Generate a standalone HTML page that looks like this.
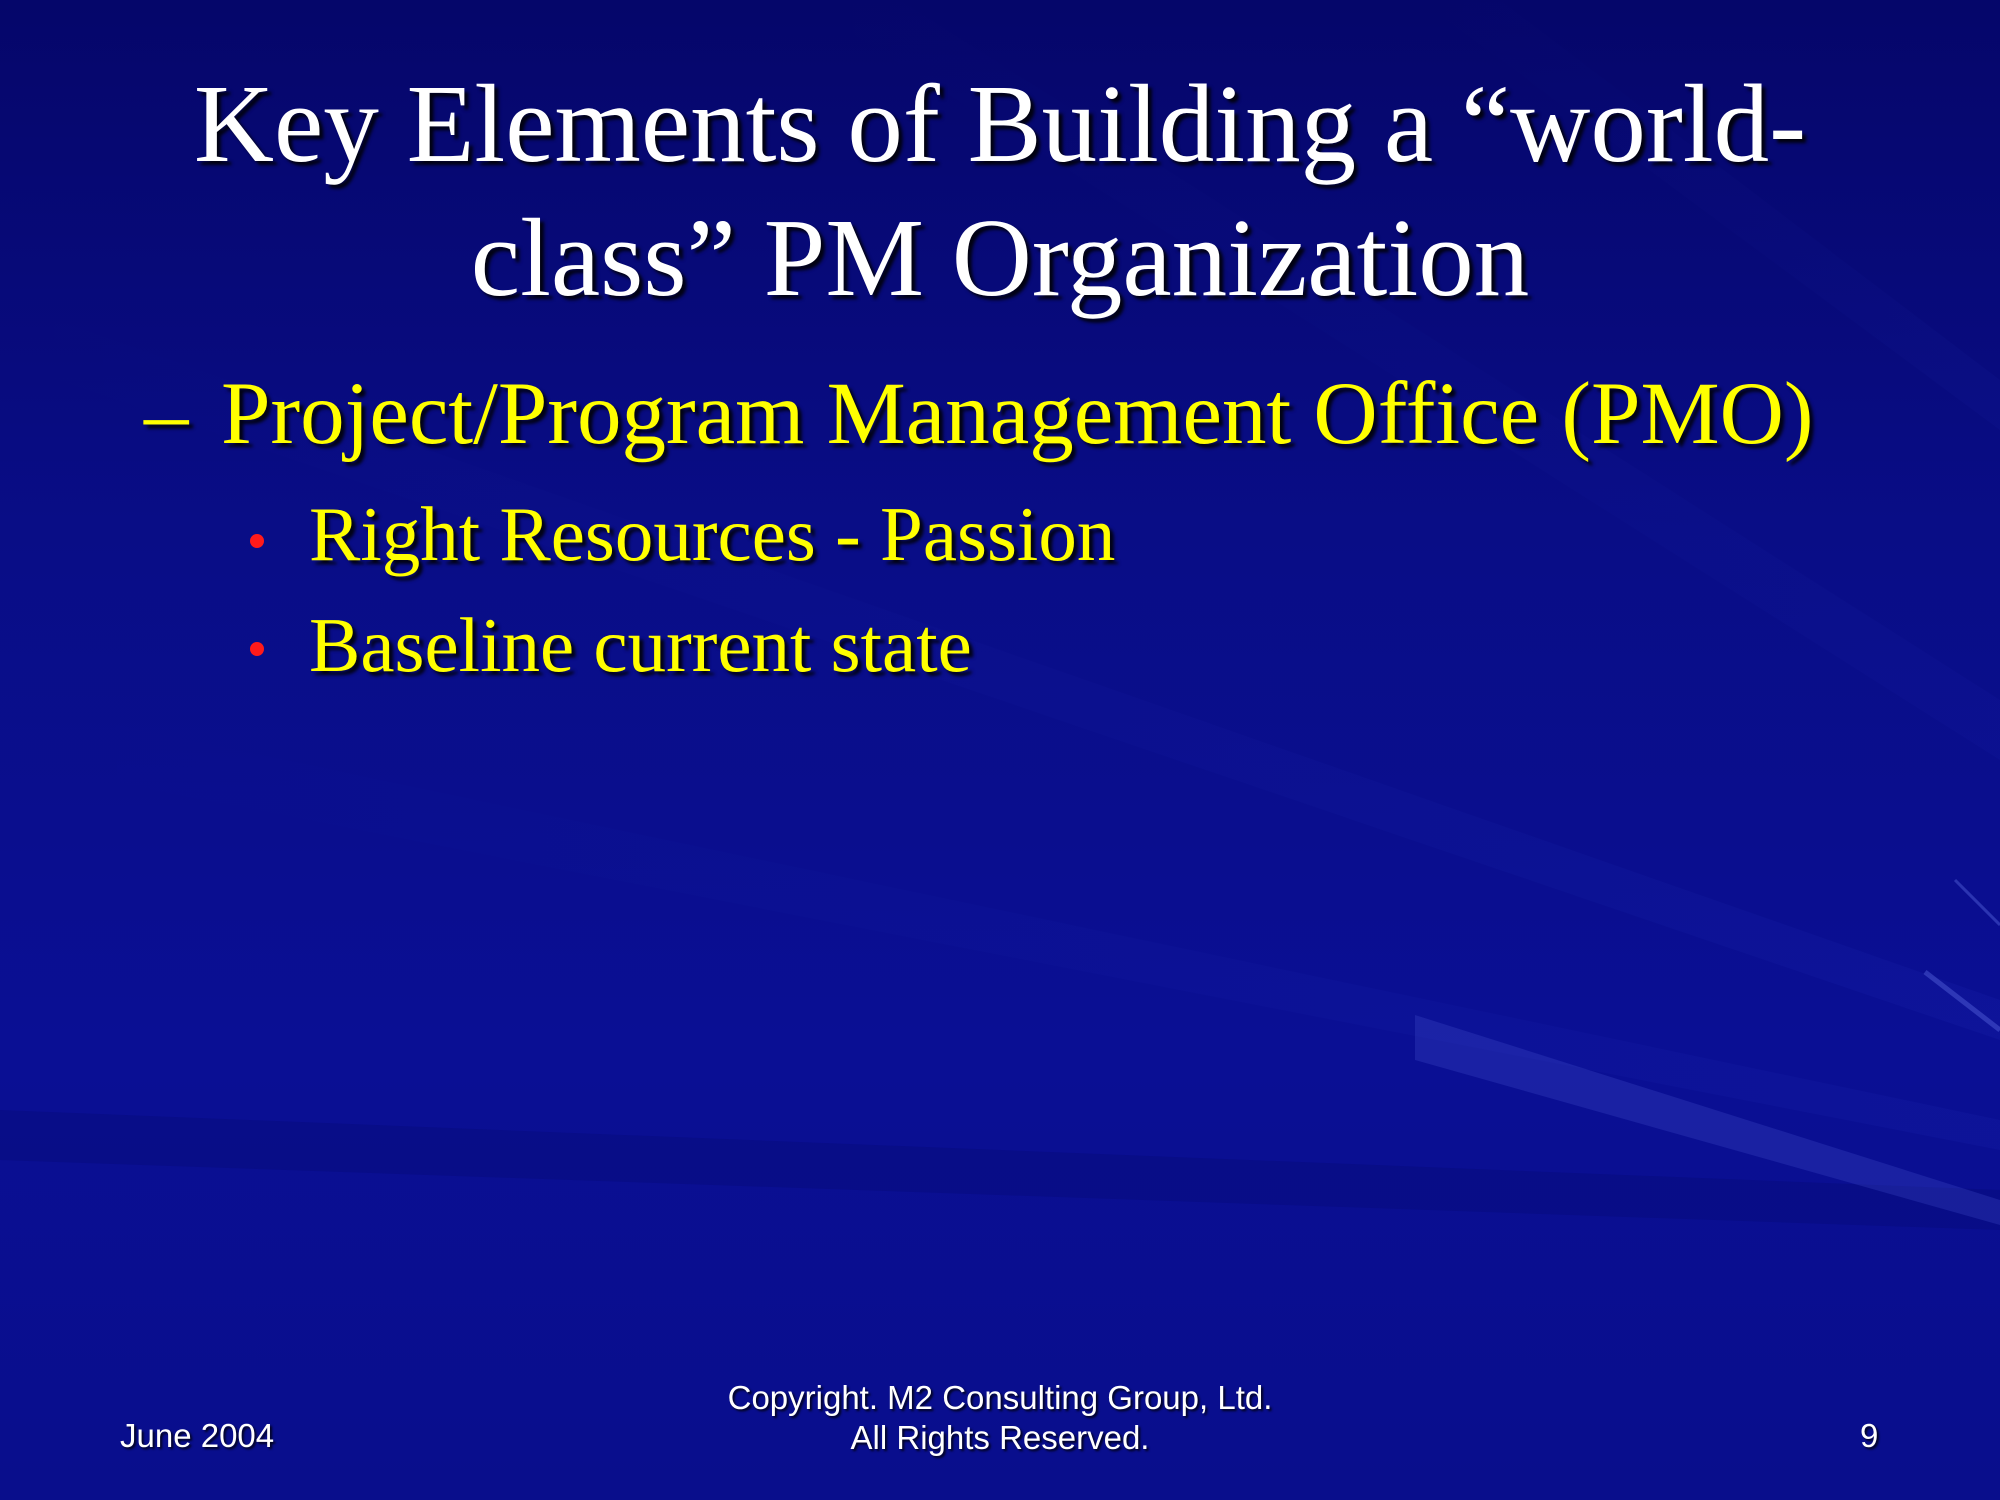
<!DOCTYPE html>
<html><head><meta charset="utf-8"><style>
html,body{margin:0;padding:0}
body{width:2000px;height:1500px;position:relative;overflow:hidden;
background:linear-gradient(180deg,#05066a 0%,#090d86 35%,#0a0f94 70%,#090e8c 100%);}
.t{position:absolute;white-space:nowrap;}
.serif{font-family:"Liberation Serif",serif;text-shadow:4px 4px 3px rgba(0,0,0,0.85);}
.sans{font-family:"Liberation Sans",sans-serif;color:#fff;font-size:33px;text-shadow:2px 2px 2px rgba(0,0,0,0.8);}
</style></head><body>
<svg width="2000" height="1500" style="position:absolute;left:0;top:0">
<defs><linearGradient id="g" x1="0" y1="0" x2="1" y2="0"><stop offset="0" stop-color="#2a3cc8" stop-opacity="0"/><stop offset="1" stop-color="#3a4ce0" stop-opacity="0.3"/></linearGradient></defs>
<polygon points="0,300 2000,1000 2000,1040 0,360" fill="url(#g)" opacity="0.25"/>
<polygon points="0,700 2000,1120 2000,1150 0,760" fill="url(#g)" opacity="0.25"/>
<polygon points="0,1110 2000,1190 2000,1230 0,1160" fill="#020560" opacity="0.2"/>
<polygon points="1415,1015 2000,1200 2000,1225 1415,1060" fill="#5a6ae8" opacity="0.2"/>
<polygon points="900,0 2000,700 2000,760 800,0" fill="url(#g)" opacity="0.15"/>
<polygon points="1500,0 2000,380 2000,430 1420,0" fill="url(#g)" opacity="0.15"/>
<line x1="1925" y1="972" x2="2000" y2="1030" stroke="#6a7af0" stroke-width="5" opacity="0.35"/>
<line x1="1955" y1="880" x2="2000" y2="925" stroke="#6a7af0" stroke-width="3" opacity="0.35"/>
</svg>
<div class="t serif" style="left:0;width:2000px;top:58px;text-align:center;color:#fff;font-size:111px;line-height:134px;white-space:normal">Key Elements of Building a “world-<br>class” PM Organization</div>
<div class="t serif" style="left:144px;top:364px;color:#ffff00;font-size:89px;line-height:100px">–<span style="position:absolute;left:77px">Project/Program Management Office (PMO)</span></div>
<div class="t" style="left:250px;top:534px;width:14px;height:14px;border-radius:50%;background:#ff1a1a"></div>
<div class="t serif" style="left:309px;top:492px;color:#ffff00;font-size:77px;line-height:84px">Right Resources - Passion</div>
<div class="t" style="left:250px;top:642px;width:14px;height:14px;border-radius:50%;background:#ff1a1a"></div>
<div class="t serif" style="left:309px;top:603px;color:#ffff00;font-size:77px;line-height:84px">Baseline current state</div>
<div class="t sans" style="left:120px;top:1417px">June 2004</div>
<div class="t sans" style="left:0;width:2000px;top:1378px;text-align:center;line-height:40px">Copyright. M2 Consulting Group, Ltd.<br>All Rights Reserved.</div>
<div class="t sans" style="left:1860px;top:1417px">9</div>
</body></html>
